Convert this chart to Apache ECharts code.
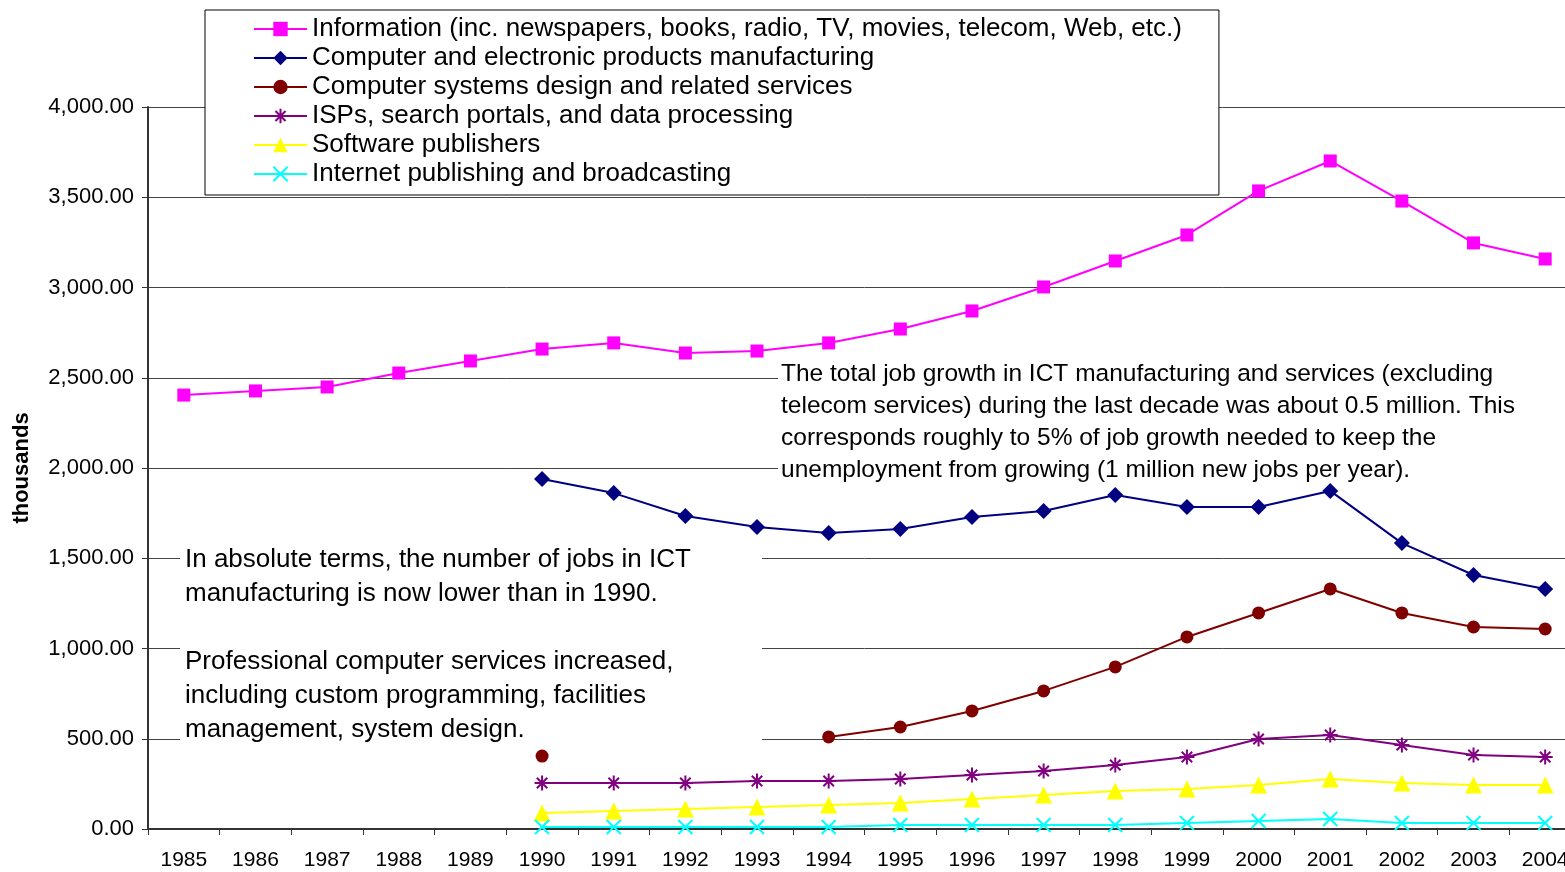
<!DOCTYPE html>
<html>
<head>
<meta charset="utf-8">
<script src="https://cdn.jsdelivr.net/npm/echarts@6/dist/echarts.min.js"></script>
<style>
  html, body { margin: 0; padding: 0; background: #fff; overflow: hidden; }
  /* the plot runs past the right edge of the window, as in the original */
  #chart { width: 1581px; height: 872px; }
</style>
</head>
<body>
<div id="chart"></div>
<script>
// years on the x axis
const years = ['1985', '1986', '1987', '1988', '1989', '1990', '1991', '1992', '1993', '1994',
  '1995', '1996', '1997', '1998', '1999', '2000', '2001', '2002', '2003', '2004'];

// employment, thousands
const information = [2404, 2427, 2449, 2526, 2593, 2659, 2693, 2637, 2648, 2693,
  2770, 2870, 3003, 3147, 3291, 3535, 3701, 3479, 3247, 3158];
const manufacturing = [null, null, null, null, null, 1939, 1861, 1734, 1673, 1640,
  1662, 1729, 1762, 1850, 1784, 1784, 1873, 1584, 1407, 1330];
const systemsDesign = [null, null, null, null, null, 404, null, null, null, 510,
  565, 654, 765, 898, 1064, 1197, 1330, 1197, 1119, 1108];
const isps = [null, null, null, null, null, 255, 255, 255, 266, 266,
  277, 299, 321, 355, 399, 499, 521, 465, 410, 399];
const software = [null, null, null, null, null, 89, 100, 111, 122, 133,
  144, 166, 188, 211, 222, 244, 277, 255, 244, 244];
const internetPub = [null, null, null, null, null, 11, 11, 11, 11, 11,
  22, 22, 22, 22, 33, 44, 55, 33, 33, 33];

const seriesNames = [
  'Information (inc. newspapers, books, radio, TV, movies, telecom, Web, etc.)',
  'Computer and electronic products manufacturing',
  'Computer systems design and related services',
  'ISPs, search portals, and data processing',
  'Software publishers',
  'Internet publishing and broadcasting'
];

const noteRight = 'The total job growth in ICT manufacturing and services (excluding\n' +
  'telecom services) during the last decade was about 0.5 million. This\n' +
  'corresponds roughly to 5% of job growth needed to keep the\n' +
  'unemployment from growing (1 million new jobs per year).';
const noteLeft = 'In absolute terms, the number of jobs in ICT\n' +
  'manufacturing is now lower than in 1990.\n\n' +
  'Professional computer services increased,\n' +
  'including custom programming, facilities\n' +
  'management, system design.';

const FONT = '"Liberation Sans", Arial, sans-serif';
const asterisk = 'path://M0,5L10,5M5,0L5,10M1.5,1.5L8.5,8.5M8.5,1.5L1.5,8.5';
const cross = 'path://M0,0L10,10M10,0L0,10';

const chart = echarts.init(document.getElementById('chart'));

function lineSeries(name, data, color, symbol, size, stroked) {
  return {
    name: name,
    type: 'line',
    data: data,
    symbol: symbol,
    symbolSize: size,
    showAllSymbol: true,
    connectNulls: false,
    lineStyle: { color: color, width: 2 },
    itemStyle: stroked
      ? { color: color, borderColor: color, borderWidth: 2 }
      : { color: color, borderWidth: 0 },
    emphasis: { disabled: true }
  };
}

const option = {
  animation: false,
  backgroundColor: '#fff',
  textStyle: { fontFamily: FONT },
  grid: {
    left: 148,
    top: 107,
    right: 0,
    height: 722
  },
  legend: {
    orient: 'vertical',
    left: 205,
    top: 10,
    padding: [6, 37, 8, 48],
    itemGap: 3,
    itemWidth: 53,
    itemHeight: 18,
    backgroundColor: '#fff',
    borderColor: '#000',
    borderWidth: 1,
    textStyle: { fontSize: 26, color: '#000', fontFamily: FONT, lineHeight: 26 },
    data: seriesNames
  },
  xAxis: {
    type: 'category',
    data: years,
    boundaryGap: true,
    axisLine: { lineStyle: { color: '#333', width: 2 } },
    axisTick: { show: true, interval: 0, length: 6, lineStyle: { color: '#333' } },
    axisLabel: { fontSize: 21, color: '#000', margin: 21, interval: 0 },
    splitLine: { show: false }
  },
  yAxis: {
    type: 'value',
    min: 0,
    max: 4000,
    interval: 500,
    name: 'thousands',
    nameLocation: 'middle',
    nameGap: 115,
    nameTextStyle: { fontSize: 22, fontWeight: 'bold', color: '#000' },
    axisLine: { show: true, lineStyle: { color: '#333', width: 2 } },
    axisTick: { show: true, length: 6, lineStyle: { color: '#333' } },
    axisLabel: {
      fontSize: 22,
      color: '#000',
      margin: 14,
      formatter: v => v.toLocaleString('en-US', { minimumFractionDigits: 2, maximumFractionDigits: 2 })
    },
    splitLine: { show: true, lineStyle: { color: '#444', width: 1 } }
  },
  graphic: [
    {
      type: 'rect', z: 1, silent: true,
      shape: { x: 778, y: 358, width: 800, height: 123 },
      style: { fill: '#fff' }
    },
    {
      type: 'text', z: 1, silent: true,
      x: 781, y: 358,
      style: { text: noteRight, fill: '#000', fontSize: 24.5, fontFamily: FONT, lineHeight: 32, verticalAlign: 'top' }
    },
    {
      type: 'rect', z: 1, silent: true,
      shape: { x: 180, y: 543, width: 582, height: 204 },
      style: { fill: '#fff' }
    },
    {
      type: 'text', z: 1, silent: true,
      x: 185, y: 543,
      style: { text: noteLeft, fill: '#000', fontSize: 26, fontFamily: FONT, lineHeight: 34, verticalAlign: 'top' }
    }
  ],
  series: [
    lineSeries(seriesNames[0], information, '#ff00ff', 'rect', 13, false),
    lineSeries(seriesNames[1], manufacturing, '#000080', 'diamond', 16, false),
    lineSeries(seriesNames[2], systemsDesign, '#800000', 'circle', 13, false),
    lineSeries(seriesNames[3], isps, '#800080', asterisk, 15, true),
    lineSeries(seriesNames[4], software, '#ffff00', 'triangle', 17, false),
    lineSeries(seriesNames[5], internetPub, '#00ffff', cross, 14, true)
  ]
};

chart.setOption(option);
</script>
</body>
</html>
